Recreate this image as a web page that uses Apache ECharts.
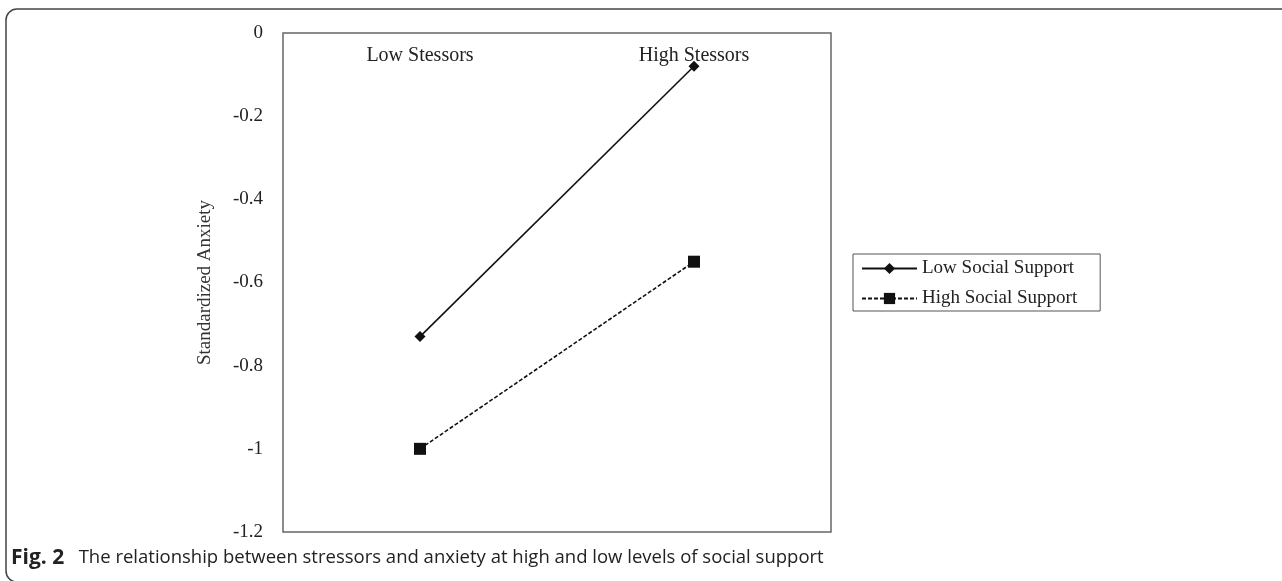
<!DOCTYPE html>
<html>
<head>
<meta charset="utf-8">
<script src="https://cdn.jsdelivr.net/npm/echarts@6/dist/echarts.min.js"></script>
<style>
html,body{margin:0;padding:0;background:#fff;}
#chart{width:1282px;height:581px;}
</style>
</head>
<body>
<div id="chart"></div>
<script>
const categories = ['Low Stessors', 'High Stessors'];
const lowSupport = [-0.73, -0.08];
const highSupport = [-1.0, -0.55];
const seriesNames = ['Low Social Support', 'High Social Support'];
const yTickLabels = ['0', '-0.2', '-0.4', '-0.6', '-0.8', '-1', '-1.2'];
const yAxisName = 'Standardized Anxiety';
const captionBold = 'Fig. 2';
const captionText = 'The relationship between stressors and anxiety at high and low levels of social support';

const serif = '"Liberation Serif", "Times New Roman", serif';
const chart = echarts.init(document.getElementById('chart'), null, {renderer: 'canvas'});
chart.setOption({
  animation: false,
  backgroundColor: '#fff',
  grid: {
    left: 283, top: 33, width: 548, height: 499,
    show: true, borderColor: '#666', borderWidth: 1.5, backgroundColor: 'transparent'
  },
  xAxis: {
    type: 'category',
    data: categories,
    position: 'top',
    boundaryGap: true,
    axisLine: {show: false},
    axisTick: {show: false},
    splitLine: {show: false},
    axisLabel: {inside: true, margin: 13, fontFamily: serif, fontSize: 20, color: '#222'}
  },
  yAxis: {
    type: 'value',
    min: -1.2, max: 0, interval: 0.2,
    axisLine: {show: false},
    axisTick: {show: false},
    splitLine: {show: false},
    axisLabel: {
      margin: 20, fontFamily: serif, fontSize: 19, color: '#222',
      formatter: function (v) {
        const r = Math.round(v * 10) / 10;
        const idx = Math.round(-r / 0.2);
        return yTickLabels[idx] !== undefined ? yTickLabels[idx] : String(r);
      }
    },
    name: yAxisName,
    nameLocation: 'middle',
    nameRotate: 90,
    nameGap: 68,
    nameTextStyle: {fontFamily: serif, fontSize: 19, color: '#333'}
  },
  legend: {
    orient: 'vertical',
    left: 853, top: 254,
    borderColor: '#555', borderWidth: 1,
    padding: [5, 23, 3, 8],
    itemGap: 11,
    itemWidth: 55, itemHeight: 14,
    textStyle: {fontFamily: serif, fontSize: 19, color: '#222'},
    data: seriesNames
  },
  series: [
    {
      name: seriesNames[0], type: 'line', data: lowSupport,
      symbol: 'diamond', symbolSize: 11,
      itemStyle: {color: '#111'},
      lineStyle: {color: '#111', width: 1.6, type: 'solid'}
    },
    {
      name: seriesNames[1], type: 'line', data: highSupport,
      symbol: 'rect', symbolSize: 12,
      itemStyle: {color: '#111'},
      lineStyle: {color: '#111', width: 1.6, type: [4, 2]}
    }
  ],
  graphic: [
    {
      type: 'rect',
      shape: {x: 6, y: 9, width: 1400, height: 573, r: 11},
      style: {fill: 'none', stroke: '#444', lineWidth: 1.5},
      silent: true
    },
    {
      type: 'text',
      x: 11, y: 558,
      style: {
        text: '{b|' + captionBold + '}   ' + captionText,
        font: '18.5px "Open Sans", sans-serif',
        fill: '#222',
        verticalAlign: 'middle',
        rich: {b: {fontFamily: '"Open Sans", sans-serif', fontWeight: 'bold', fontSize: 21, fill: '#222'}}
      }
    }
  ]
});
</script>
</body>
</html>
